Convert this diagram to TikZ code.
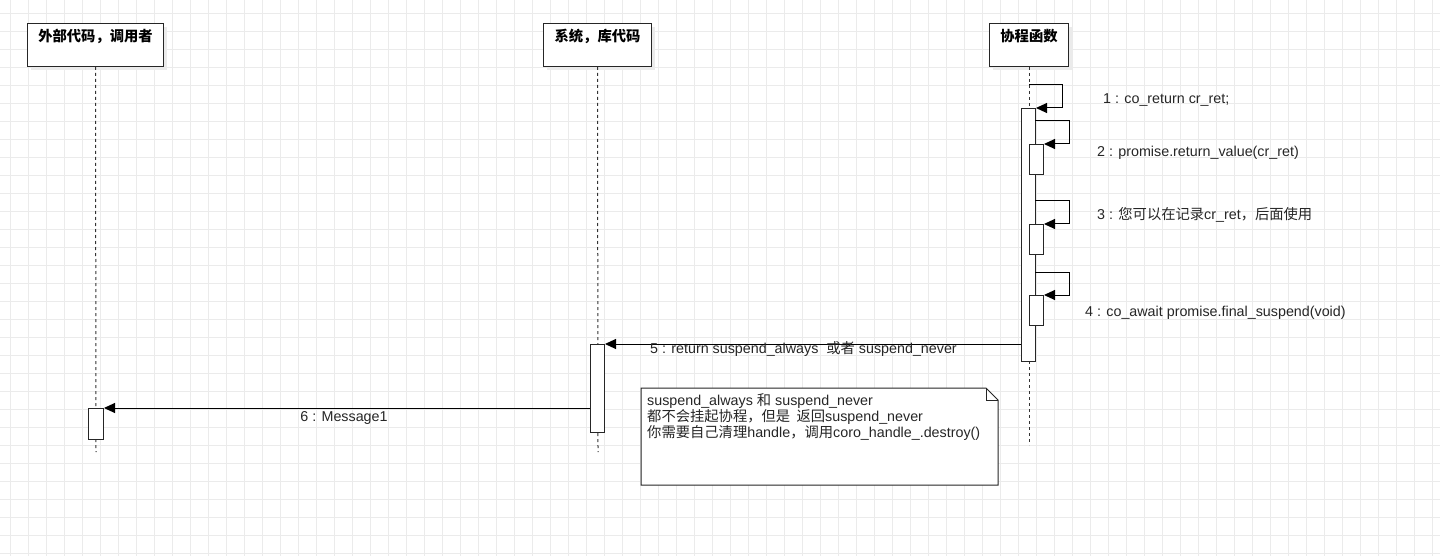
\documentclass[tikz,border=0pt]{standalone}
\usepackage{fontspec}
\setmainfont{Liberation Sans}
\newfontfamily\cjk{Noto Sans CJK SC}
\usetikzlibrary{arrows.meta}
\begin{document}
\begin{tikzpicture}[x=1pt,y=-1pt,
  head/.style={draw=black!85,fill=white,line width=1pt,minimum width=#1,minimum height=43pt,font=\cjk\bfseries\fontsize{14.3}{16}\selectfont,anchor=north west,inner sep=0pt,text depth=20pt},
  act/.style={draw=black!85,fill=white,line width=1pt},
  life/.style={draw=black!80,dash pattern=on 3pt off 3pt,line width=1pt},
  msg/.style={draw=black,line width=1pt,-{Triangle[length=11pt,width=10pt]}},
  lbl/.style={font=\fontsize{14.3}{16}\selectfont,text=black!85,inner sep=0pt}]
\useasboundingbox (0,0) rectangle (1440,556);
\fill[white] (0,0) rectangle (1440,556);
\foreach \x in {10,28,...,1440} \draw[black!8,line width=0.8pt] (\x,0) -- (\x,556);
\foreach \y in {13,31,...,556} \draw[black!8,line width=0.8pt] (0,\y) -- (1440,\y);
% heads
\fill[black!8] (31,27) rectangle (167,70);
\fill[black!8] (547,27) rectangle (655,70);
\fill[black!8] (993,27) rectangle (1072,70);
\node[head=136pt] (h1) at (27,23) {外部代码，调用者};
\node[head=108pt] (h2) at (543,23) {系统，库代码};
\node[head=79pt] (h3) at (989,23) {协程函数};
\coordinate (e1) at (96,452);
\coordinate (e2) at (598,452);
\coordinate (e3) at (1029,445);
\draw[life] (h1.south) -- (e1);
\draw[life] (h2.south) -- (e2);
\draw[life] (h3.south) -- (e3);
% activations
\node[act,anchor=north west,minimum width=14pt,minimum height=253pt,inner sep=0pt] (a3) at (1021,108) {};
\node[act,anchor=north west,minimum width=14pt,minimum height=30pt,inner sep=0pt] (n2) at (1029,144) {};
\node[act,anchor=north west,minimum width=14pt,minimum height=30pt,inner sep=0pt] (n3) at (1029,224) {};
\node[act,anchor=north west,minimum width=14pt,minimum height=30pt,inner sep=0pt] (n4) at (1029,295) {};
\node[act,anchor=north west,minimum width=14pt,minimum height=88pt,inner sep=0pt] (a2) at (590,344) {};
\node[act,anchor=north west,minimum width=15pt,minimum height=31pt,inner sep=0pt] (a1) at (88,408) {};
% self messages
\coordinate (s1) at (1029,85);
\draw[msg] (s1) -- (1062,85) -- (1062,108) -- (a3.north east);
\coordinate (s2) at (1035,121);
\draw[msg] (s2) -- (1069,121) -- (1069,144) -- (n2.north east);
\coordinate (s3) at (1035,201);
\draw[msg] (s3) -- (1069,201) -- (1069,224) -- (n3.north east);
\coordinate (s4) at (1035,272);
\draw[msg] (s4) -- (1069,272) -- (1069,295) -- (n4.north east);
\node[lbl,anchor=west] (l1) at (1103,100) {1 : co\_return cr\_ret;};
\node[lbl,anchor=west] (l2) at (1097,153) {2 : promise.return\_value(cr\_ret)};
\node[lbl,anchor=west] (l3) at (1097,215) {3 : {\cjk 您可以在记录}cr\_ret{\cjk ，后面使用}};
\node[lbl,anchor=west] (l4) at (1085,313) {4 : co\_await promise.final\_suspend(void)};
% messages
\draw[msg] (a3.west |- a2.north) -- (a2.north east);
\node[lbl,anchor=west] (l5) at (650,349) {5 : return suspend\_always\ \ {\cjk 或者} suspend\_never};
\draw[msg] (a2.west |- a1.north) -- (a1.north east);
\node[lbl] (l6) at (344,418) {6 : Message1};
% note
\draw[draw=black!85,fill=white,line width=1pt] (641,388) -- (986,388) -- (998,400) -- (998,485) -- (641,485) -- cycle;
\draw[draw=black!85,line width=1pt] (986,388) -- (986,400) -- (998,400);
\node[lbl,anchor=north west,align=left,font=\fontsize{14.3}{14.5}\selectfont] (nt) at (647,393) {suspend\_always {\cjk 和} suspend\_never\\{\cjk 都不会挂起协程，但是\ \ 返回}suspend\_never\\{\cjk 你需要自己清理}handle{\cjk ，调用}coro\_handle\_.destroy()};
\end{tikzpicture}
\end{document}
